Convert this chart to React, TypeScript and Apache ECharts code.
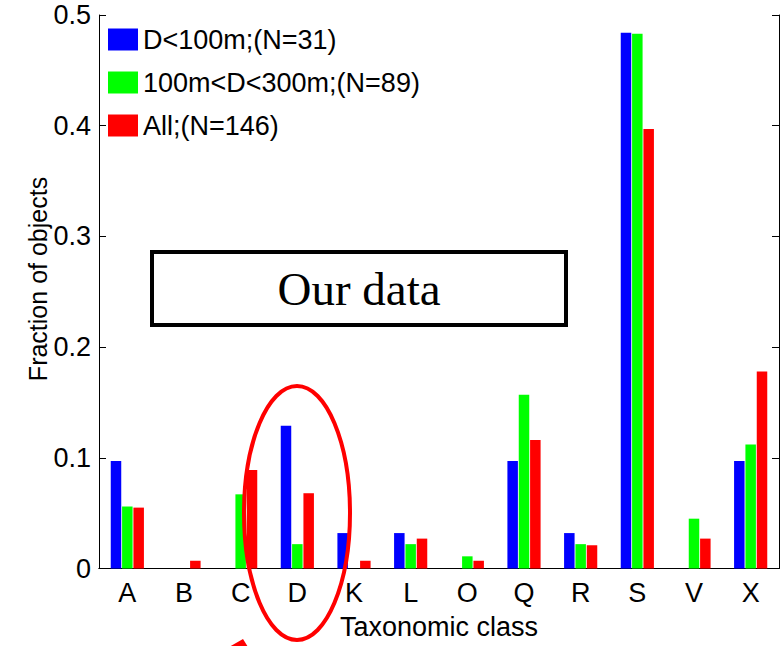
import React, { useEffect, useRef } from "react";
import * as echarts from "echarts";

const categories = ["A", "B", "C", "D", "K", "L", "O", "Q", "R", "S", "V", "X"];
const seriesNames = ["D<100m;(N=31)", "100m<D<300m;(N=89)", "All;(N=146)"];
const smallValues = [0.097, 0, 0, 0.129, 0.032, 0.032, 0, 0.097, 0.032, 0.484, 0, 0.097];
const midValues = [0.056, 0, 0.067, 0.022, 0, 0.022, 0.011, 0.157, 0.022, 0.483, 0.045, 0.112];
const allValues = [0.055, 0.007, 0.089, 0.068, 0.007, 0.027, 0.007, 0.116, 0.021, 0.397, 0.027, 0.178];
const yTicks = [0, 0.1, 0.2, 0.3, 0.4, 0.5];
const colors = ["#0000ff", "#00ff00", "#ff0000"];

const SANS = "'Liberation Sans', Arial, Helvetica, sans-serif";

export default function App() {
  const ref = useRef<HTMLDivElement>(null);
  useEffect(() => {
    if (!ref.current) return;
    const chart = echarts.init(ref.current, undefined, { renderer: "svg" });
    const values = [smallValues, midValues, allValues];
    chart.setOption({
      animation: false,
      backgroundColor: "#ffffff",
      textStyle: { fontFamily: SANS },
      grid: { left: 99, right: 4, top: 15, bottom: 77.5, containLabel: false },
      legend: {
        orient: "vertical",
        left: 103,
        top: 21,
        itemWidth: 30,
        itemHeight: 22,
        itemGap: 16,
        icon: "rect",
        textStyle: { fontSize: 27, color: "#000", fontFamily: SANS, lineHeight: 22, padding: [5, 0, 0, 0] },
        data: seriesNames,
      },
      xAxis: [
        {
          type: "category",
          data: categories,
          boundaryGap: true,
          position: "bottom",
          axisLine: { lineStyle: { color: "#000", width: 1 } },
          axisTick: { alignWithLabel: true, inside: true, length: 5, lineStyle: { color: "#000" } },
          axisLabel: { fontSize: 27, color: "#000", margin: 11, fontFamily: SANS },
          name: "Taxonomic class",
          nameLocation: "middle",
          nameGap: 45,
          nameTextStyle: { fontSize: 27, color: "#000", fontFamily: SANS },
        },
        {
          type: "category",
          data: categories,
          boundaryGap: true,
          position: "top",
          axisLine: { show: true, lineStyle: { color: "#000", width: 1 } },
          axisTick: { alignWithLabel: true, inside: true, length: 5, lineStyle: { color: "#000" } },
          axisLabel: { show: false },
        },
      ],
      yAxis: [
        {
          type: "value",
          min: 0,
          max: 0.5,
          interval: 0.1,
          axisLine: { show: true, lineStyle: { color: "#000", width: 1 } },
          axisTick: { show: true, inside: true, length: 7, lineStyle: { color: "#000" } },
          splitLine: { show: false },
          axisLabel: {
            fontSize: 27,
            color: "#000",
            margin: 8,
            fontFamily: SANS,
            formatter: (v: number) => {
              const t = yTicks.find((x) => Math.abs(x - v) < 1e-9);
              const val = t !== undefined ? t : v;
              return val === 0 ? "0" : val.toFixed(1);
            },
          },
        },
        {
          type: "value",
          min: 0,
          max: 0.5,
          interval: 0.1,
          position: "right",
          axisLine: { show: true, lineStyle: { color: "#000", width: 1 } },
          axisTick: { show: true, inside: true, length: 7, lineStyle: { color: "#000" } },
          splitLine: { show: false },
          axisLabel: { show: false },
        },
      ],
      series: values.map((arr, i) => ({
        type: "bar",
        name: seriesNames[i],
        data: arr,
        xAxisIndex: 0,
        yAxisIndex: 0,
        barWidth: 10.5,
        barGap: "8%",
        itemStyle: { color: colors[i] },
      })),
      graphic: [
        {
          type: "text",
          x: 38,
          y: 279,
          rotation: Math.PI / 2,
          style: {
            text: "Fraction of objects",
            font: `25px ${SANS}`,
            fill: "#000",
            textAlign: "center",
            textVerticalAlign: "middle",
          },
        },
        {
          type: "rect",
          shape: { x: 152, y: 252, width: 414, height: 73 },
          style: { fill: "#ffffff", stroke: "#000", lineWidth: 4 },
          z: 100,
        },
        {
          type: "text",
          x: 359,
          y: 289,
          style: {
            text: "Our data",
            font: "47px 'Liberation Serif', 'Times New Roman', serif",
            fill: "#000",
            textAlign: "center",
            textVerticalAlign: "middle",
          },
          z: 101,
        },
        {
          type: "ellipse",
          shape: { cx: 297, cy: 513, rx: 53, ry: 127 },
          style: { fill: "none", stroke: "#ff0000", lineWidth: 4 },
          z: 100,
        },
        {
          type: "polygon",
          shape: { points: [[243, 639], [229, 647], [248, 647]] },
          style: { fill: "#ff0000" },
          z: 100,
        },
      ],
    });
    return () => chart.dispose();
  }, []);
  return (
    <div
      ref={ref}
      style={{ position: "absolute", left: 0, top: 0, width: 783, height: 646 }}
    />
  );
}
